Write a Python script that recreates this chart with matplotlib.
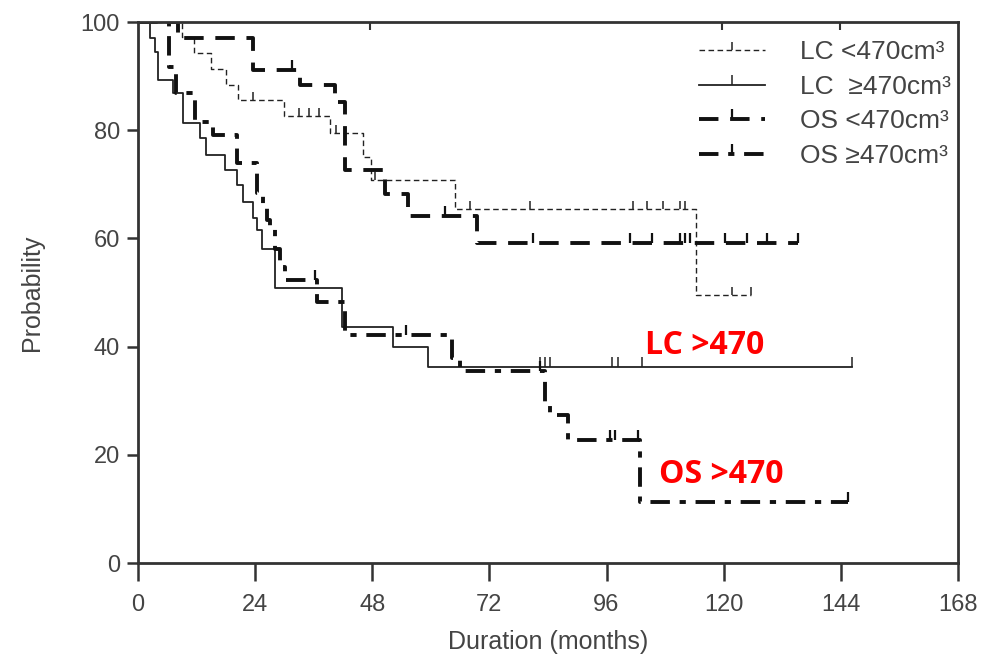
import matplotlib
matplotlib.use("Agg")
import matplotlib.pyplot as plt
from matplotlib.lines import Line2D

plt.rcParams["font.family"] = ["Liberation Sans", "DejaVu Sans"]

# Kaplan-Meier steps (months, % probability)
lc_lt_t = [0, 9, 11.5, 15, 18, 20.5, 30, 39.3, 46.1, 47.7, 65, 114.3, 125.5]
lc_lt_p = [100, 97.2, 94.3, 91.4, 88.4, 85.6, 82.6, 79.5, 75.1, 70.8, 65.5, 49.5, 49.5]
lc_lt_cens_t = [6.2, 8.2, 23.5, 33, 35, 37, 40.5, 48.5, 68, 80.3, 101.4, 104.3, 107.6, 111, 112, 121.7, 125.5]
lc_lt_cens_p = [100, 100, 85.6, 82.6, 82.6, 82.6, 79.5, 70.8, 65.5, 65.5, 65.5, 65.5, 65.5, 65.5, 65.5, 49.5, 49.5]

lc_ge_t = [0, 2.5, 3.5, 4.2, 7.2, 9.2, 12.7, 13.9, 17.8, 20.3, 21.5, 23.6, 24.4, 25.5, 28.1, 41.8, 52.2, 59.4, 146.3]
lc_ge_p = [100, 97, 94.5, 89.3, 86.9, 81.3, 78.6, 75.4, 72.6, 69.9, 66.7, 63.8, 61.5, 58.0, 50.8, 43.6, 40.0, 36.3, 36.3]
lc_ge_cens_t = [82.4, 83.4, 84.4, 97.1, 98.3, 103.3, 146.3]
lc_ge_cens_p = [36.3, 36.3, 36.3, 36.3, 36.3, 36.3, 36.3]

os_lt_t = [0, 8.2, 23.6, 33.2, 40.3, 42.4, 50.6, 55.3, 69.4, 135.3]
os_lt_p = [100, 97, 91.1, 88.4, 85.2, 72.6, 68.2, 64.2, 59.2, 59.2]
os_lt_cens_t = [31.5, 63, 81, 100.8, 105.3, 111, 112, 113, 120.3, 124.8, 128.9, 135.3]
os_lt_cens_p = [91.1, 64.2, 59.2, 59.2, 59.2, 59.2, 59.2, 59.2, 59.2, 59.2, 59.2, 59.2]

os_ge_t = [0, 6.3, 7.8, 11.7, 15.4, 20.3, 24.4, 25.6, 26.4, 27.1, 28.1, 29.0, 30.1, 36.7, 42.4, 64.3, 66.0, 83.4, 84.4, 88.1, 102.8, 145.5]
os_ge_p = [100, 91.7, 86.9, 81.6, 79.2, 74.0, 68.4, 65.8, 63.4, 62.0, 58.0, 54.8, 52.3, 48.2, 42.2, 37.9, 35.5, 29.6, 27.4, 22.7, 11.3, 11.3]
os_ge_cens_t = [36.3, 55, 82.4, 96.7, 97.7, 102.5, 145.5]
os_ge_cens_p = [52.3, 42.2, 35.5, 22.7, 22.7, 22.7, 11.3]

top_marks_t = [47.5, 119.6, 143.8]

x_ticks = [0, 24, 48, 72, 96, 120, 144, 168]
y_ticks = [0, 20, 40, 60, 80, 100]

labels = ["LC <470cm\u00b3", "LC  \u2265470cm\u00b3", "OS <470cm\u00b3", "OS \u2265470cm\u00b3"]

st_lc_lt = dict(color="#222222", lw=1.0, dashes=(4, 2.5))
st_lc_ge = dict(color="#222222", lw=1.3, linestyle="-")
st_os_lt = dict(color="#111111", lw=2.8, dashes=(5, 3))
st_os_ge = dict(color="#111111", lw=2.8, dashes=(5, 2.5, 1.6, 2.5))

fig = plt.figure(figsize=(9.87, 6.64), dpi=100)
ax = fig.add_axes([0.1398, 0.152, 0.8308, 0.8148])

curves = [
    (lc_lt_t, lc_lt_p, lc_lt_cens_t, lc_lt_cens_p, st_lc_lt, 6),
    (lc_ge_t, lc_ge_p, lc_ge_cens_t, lc_ge_cens_p, st_lc_ge, 7),
    (os_lt_t, os_lt_p, os_lt_cens_t, os_lt_cens_p, st_os_lt, 7),
    (os_ge_t, os_ge_p, os_ge_cens_t, os_ge_cens_p, st_os_ge, 7),
]
for t, p, ct, cp, st, ms in curves:
    ax.step(t, p, where="post", **st)
    ax.plot(ct, cp, linestyle="none", marker=2, markersize=ms,
            markeredgewidth=1.6 if st["lw"] > 2 else 1.1, color=st["color"])

ax.plot(top_marks_t, [100] * len(top_marks_t), linestyle="none", marker=3,
        markersize=6, markeredgewidth=1.5, color="#333333")

handles = []
for _, _, _, _, st, ms in curves:
    handles.append(Line2D([], [], marker=2, markersize=ms,
                          markeredgewidth=1.6 if st["lw"] > 2 else 1.1, **st))
leg = ax.legend(handles, labels, loc="upper right", bbox_to_anchor=(1.02, 1.01),
                frameon=False, fontsize=19, handlelength=2.5, handletextpad=1.3,
                labelspacing=0.4, numpoints=1)
for txt in leg.get_texts():
    txt.set_color("#444444")

ax.text(116, 40.3, "LC >470", color="#ff0000", fontsize=23, fontweight="bold",
        ha="center", va="center", family=["Open Sans", "DejaVu Sans"])
ax.text(119.5, 16.3, "OS >470", color="#ff0000", fontsize=23, fontweight="bold",
        ha="center", va="center", family=["Open Sans", "DejaVu Sans"])

ax.set_xlim(0, 168)
ax.set_ylim(0, 100)
ax.set_xticks(x_ticks)
ax.set_yticks(y_ticks)
for s in ax.spines.values():
    s.set_linewidth(2.0)
    s.set_color("#333333")
ax.tick_params(axis="both", direction="out", width=1.8, color="#333333",
               labelsize=17, labelcolor="#444444")
ax.tick_params(axis="x", length=13, pad=9)
ax.tick_params(axis="y", length=8, pad=5)

ax.set_xlabel("Duration (months)", fontsize=18, color="#444444", labelpad=10)
ax.set_ylabel("Probability", fontsize=18, color="#444444", labelpad=26)

fig.savefig("out.png", dpi=100)
